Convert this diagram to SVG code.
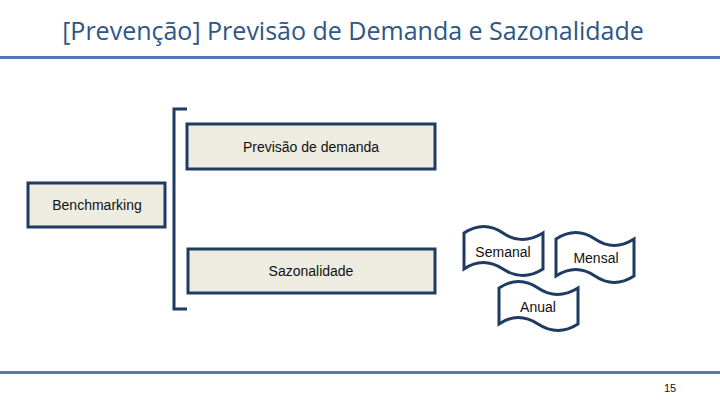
<svg xmlns="http://www.w3.org/2000/svg" width="720" height="405" viewBox="0 0 720 405">
<style>
.t{font-family:"Liberation Sans",Arial,sans-serif;font-size:14px;fill:#111;text-anchor:middle}
.box{fill:#eeece1;stroke:#1f3b61;stroke-width:3}
.wave{fill:#fff;stroke:#1f3b61;stroke-width:3}
</style>
<rect width="720" height="405" fill="#fff"/>
<text x="353" y="40" style="font-family:'Open Sans','DejaVu Sans',sans-serif;font-size:25px;fill:#2e5686" text-anchor="middle">[Prevenção] Previsão de Demanda e Sazonalidade</text>
<line x1="0" y1="57.5" x2="720" y2="57.5" stroke="#4f7bb0" stroke-width="3"/>
<line x1="0" y1="372.5" x2="720" y2="372.5" stroke="#4f7bb0" stroke-width="3"/>
<text x="670" y="392" style="font-family:'Liberation Sans',Arial,sans-serif;font-size:11px;fill:#111" text-anchor="middle">15</text>
<g id="connectors">
<path d="M187,109 L174,109 L174,309 L187,309" fill="none" stroke="#1f3b61" stroke-width="3"/>
</g>
<g id="benchmarking"><rect class="box" x="28" y="183" width="137" height="44"/><text class="t" x="97" y="210">Benchmarking</text></g>
<g id="previsao"><rect class="box" x="187" y="124" width="248" height="45"/><text class="t" x="311" y="152">Previsão de demanda</text></g>
<g id="sazonalidade"><rect class="box" x="188" y="249" width="247" height="44"/><text class="t" x="311" y="276">Sazonalidade</text></g>
<g id="semanal"><path class="wave" d="M464,233 Q484,220 503,233 T543,233 L543,269 Q523,282 503,269 T464,269 Z"/><text class="t" x="503" y="257">Semanal</text></g>
<g id="mensal"><path class="wave" d="M556,239 Q576,226 595,239 T634,239 L634,276 Q614,289 595,276 T556,276 Z"/><text class="t" x="596" y="263">Mensal</text></g>
<g id="anual"><path class="wave" d="M499,288 Q519,275 538,288 T578,288 L578,324 Q558,337 538,324 T499,324 Z"/><text class="t" x="538" y="312">Anual</text></g>
</svg>
